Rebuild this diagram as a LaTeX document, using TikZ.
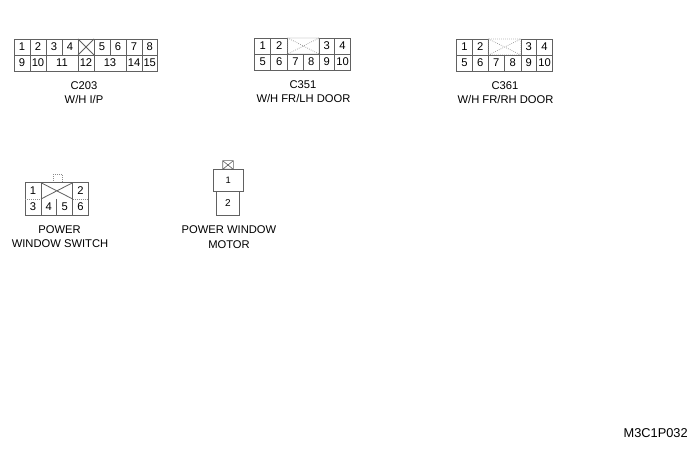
\documentclass[tikz,border=0pt]{standalone}
\usepackage{fontspec}
\setmainfont{Liberation Sans}
\definecolor{ln}{gray}{0.38}
\definecolor{lnlight}{gray}{0.55}
\tikzset{
  wire/.style={draw=ln,line width=0.6pt},
  faint/.style={draw=lnlight,line width=0.5pt,densely dotted},
  pin/.style={font=\fontsize{8.4}{10}\selectfont,inner sep=0pt,text=black},
  captext/.style={font=\fontsize{8.4}{10}\selectfont,inner sep=0pt,text=black,anchor=center}
}
\newcommand{\cellbox}[5]{%
  \draw[wire] (#1,#2) rectangle (#3,#4);
  \path (#1,#2) -- node[pin,midway] {#5} (#3,#4);}
\begin{document}
\begin{tikzpicture}[x=0.75pt,y=-0.75pt]
\useasboundingbox (0,0) rectangle (700,452);
\fill[white] (0,0) rectangle (700,452);
% C203
\cellbox{14}{39}{30}{55}{1}
\cellbox{30}{39}{46}{55}{2}
\cellbox{46}{39}{62}{55}{3}
\cellbox{62}{39}{78}{55}{4}
\cellbox{78}{39}{94}{55}{}
\draw[wire] (78,39) -- (94,55) (94,39) -- (78,55);
\cellbox{94}{39}{110}{55}{5}
\cellbox{110}{39}{126}{55}{6}
\cellbox{126}{39}{142}{55}{7}
\cellbox{142}{39}{157.5}{55}{8}
\cellbox{14}{55}{30}{71}{9}
\cellbox{30}{55}{46}{71}{10}
\cellbox{46}{55}{78}{71}{11}
\cellbox{78}{55}{94}{71}{12}
\cellbox{94}{55}{126}{71}{13}
\cellbox{126}{55}{142}{71}{14}
\cellbox{142}{55}{157.5}{71}{15}
\node[captext] (c203a) at (84,86) {C203};
\node[captext] (c203b) at (84,99.5) {W/H I/P};
% C351
\cellbox{254.7}{38}{270.7}{54}{1}
\cellbox{270.7}{38}{287.7}{54}{2}
\draw[faint] (287.7,38) rectangle (319,54) (287.7,38) -- (319,54) (319,38) -- (287.7,54);
\cellbox{319}{38}{334.7}{54}{3}
\cellbox{334.7}{38}{350.3}{54}{4}
\cellbox{254.7}{54}{270.7}{70}{5}
\cellbox{270.7}{54}{287.7}{70}{6}
\cellbox{287.7}{54}{303.3}{70}{7}
\cellbox{303.3}{54}{319}{70}{8}
\cellbox{319}{54}{334.7}{70}{9}
\cellbox{334.7}{54}{350.3}{70}{10}
\node[captext] (c351a) at (303,85) {C351};
\node[captext] (c351b) at (303.5,98) {W/H FR/LH DOOR};
% C361
\cellbox{456.7}{39}{472.3}{55}{1}
\cellbox{472.3}{39}{488.3}{55}{2}
\draw[faint] (488.3,39) rectangle (521,55) (488.3,39) -- (521,55) (521,39) -- (488.3,55);
\cellbox{521}{39}{536.7}{55}{3}
\cellbox{536.7}{39}{552.3}{55}{4}
\cellbox{456.7}{55}{472.3}{71}{5}
\cellbox{472.3}{55}{488.3}{71}{6}
\cellbox{488.3}{55}{504.3}{71}{7}
\cellbox{504.3}{55}{521}{71}{8}
\cellbox{521}{55}{536.7}{71}{9}
\cellbox{536.7}{55}{552.3}{71}{10}
\node[captext] (c361a) at (505,86) {C361};
\node[captext] (c361b) at (505.5,99.5) {W/H FR/RH DOOR};
% Power window switch
\draw[faint] (53.3,174.3) rectangle (62.3,182.7);
\draw[wire] (25,182.7) rectangle (88.3,215);
\draw[wire] (41,182.7) -- (41,215) (72.7,182.7) -- (72.7,215) (56.7,199) -- (56.7,215);
\draw[wire] (41,182.7) -- (72.7,199) (72.7,182.7) -- (41,199);
\draw[faint] (25,199) -- (41,199) (72.7,199) -- (88.3,199);
\node[pin] (s1) at (33,190.5) {1};
\node[pin] (s2) at (80.5,190.5) {2};
\node[pin] (s3) at (33,207) {3};
\node[pin] (s4) at (48.8,207) {4};
\node[pin] (s5) at (64.7,207) {5};
\node[pin] (s6) at (80.5,207) {6};
\node[captext] (swa) at (59.5,230) {POWER};
\node[captext] (swb) at (60,244) {WINDOW SWITCH};
% Power window motor
\draw[wire,line width=0.45pt] (222.7,160.7) rectangle (233.3,169.3) (222.7,160.7) -- (233.3,169.3) (233.3,160.7) -- (222.7,169.3);
\draw[wire] (216.7,191.7) rectangle (239.3,215.7);
\draw[wire,fill=white] (213.3,169.3) rectangle (243.3,191.7);
\node[pin,font=\fontsize{7}{9}\selectfont] (m1) at (228.3,180.5) {1};
\node[pin,font=\fontsize{7.5}{9}\selectfont] (m2) at (228,203.5) {2};
\node[captext] (ma) at (229,230) {POWER WINDOW};
\node[captext] (mb) at (229,245) {MOTOR};
% Code
\node[captext,anchor=east,font=\fontsize{9.6}{11}\selectfont] (code) at (688,433) {M3C1P032};
\end{tikzpicture}
\end{document}
